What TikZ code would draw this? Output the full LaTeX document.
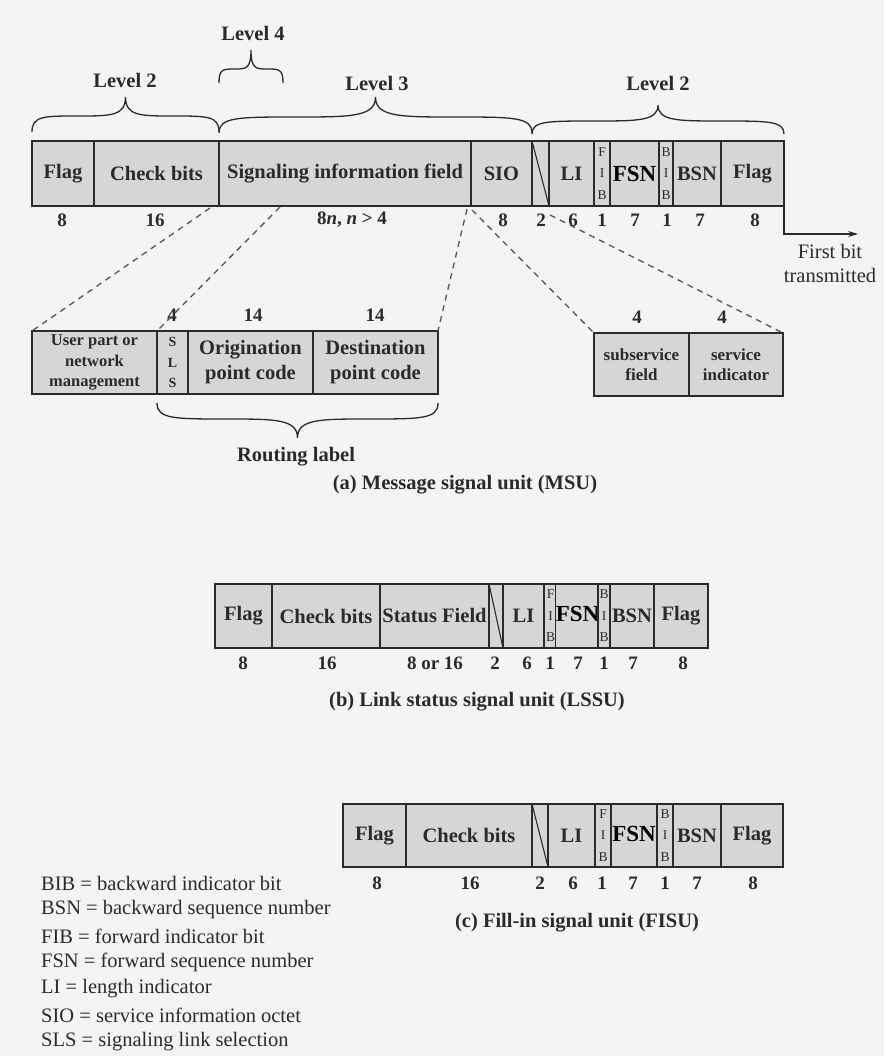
\documentclass[tikz,border=0pt]{standalone}
\usepackage{fontspec}
\setmainfont{Liberation Serif}
\usetikzlibrary{arrows.meta}

\definecolor{paper}{HTML}{F4F4F4}
\definecolor{cellfill}{HTML}{D6D6D6}
\definecolor{ink}{HTML}{2A2A2A}

\tikzset{
  cell/.style={draw=ink, line width=1.1pt, fill=cellfill, inner sep=0pt, outer sep=0pt,
    text=ink, align=center, font=\fontsize{20.5}{23}\selectfont\bfseries},
  bitcell/.style={font=\fontsize{13.5}{21.5}\selectfont},
  slscell/.style={font=\fontsize{14}{20.5}\selectfont\bfseries},
  fsncell/.style={text=black, font=\fontsize{23}{25}\selectfont\bfseries},
  smallcell/.style={font=\fontsize{16.5}{20.5}\selectfont\bfseries},
  midcell/.style={font=\fontsize{17}{20}\selectfont\bfseries},
  twoline/.style={font=\fontsize{20.5}{25}\selectfont\bfseries},
  frame/.style={draw=ink, line width=2.6pt},
  bits/.style={text=ink, inner sep=0pt, font=\fontsize{19}{21}\selectfont\bfseries},
  heading/.style={text=ink, inner sep=0pt, font=\fontsize{20.5}{23}\selectfont\bfseries},
  plain/.style={text=ink, inner sep=0pt, align=center, font=\fontsize{20.5}{24}\selectfont},
  legendline/.style={text=ink, inner sep=0pt, anchor=west, font=\fontsize{20.5}{24}\selectfont},
  curly/.style={draw=ink, line width=1.3pt},
  explode/.style={draw=ink!80, line width=1.3pt, dash pattern=on 6pt off 5pt},
  slashline/.style={draw=ink, line width=1.1pt},
}

% one field of a frame: [extra style]{name}{left}{right}{top}{bottom}{text}
\newcommand\cellbox[7][]{%
  \node[cell,#1,minimum width={(#4-#3)*1pt},minimum height={(#6-#5)*1pt}]
    (#2) at ({(#3+#4)/2},{(#5+#6)/2}) {#7};}

% curly brace: {left}{right}{y of ends}{y of shoulders}{y of tip}
\newcommand\curlybrace[5]{%
  \draw[curly] (#1,#3)
    .. controls (#1,#4) and ({#1+0.06*(#2-#1)},#4) .. ({#1+0.25*(#2-#1)},#4)
    .. controls ({#1+0.42*(#2-#1)},#4) and ({(#1+#2)/2},#4) .. ({(#1+#2)/2},#5)
    .. controls ({(#1+#2)/2},#4) and ({#1+0.58*(#2-#1)},#4) .. ({#1+0.75*(#2-#1)},#4)
    .. controls ({#1+0.94*(#2-#1)},#4) and (#2,#4) .. (#2,#3);}

\begin{document}
\begin{tikzpicture}[x=1pt, y=-1pt]
\useasboundingbox (0,0) rectangle (884,1056);
\fill[paper] (0,0) rectangle (884,1056);

% ---------------- (a) Message signal unit ----------------
\cellbox{m-flag1}{32}{94}{141}{206}{Flag}
\cellbox{m-ck}{94}{219}{141}{206}{Check bits}
\cellbox{m-sif}{219}{471}{141}{206}{Signaling information field}
\cellbox{m-sio}{471}{532}{141}{206}{SIO}
\cellbox{m-gap}{532}{549}{141}{206}{}
\cellbox{m-li}{549}{594}{141}{206}{LI}
\cellbox[bitcell]{m-fib}{594}{610}{141}{206}{F\\I\\B}
\cellbox[fsncell]{m-fsn}{610}{659}{141}{206}{FSN}
\cellbox[bitcell]{m-bib}{659}{673}{141}{206}{B\\I\\B}
\cellbox{m-bsn}{673}{721}{141}{206}{BSN}
\cellbox{m-flag2}{721}{784}{141}{206}{Flag}
\draw[slashline] (m-gap.north west) -- (m-gap.south east);
\draw[frame] (m-flag1.north west) rectangle (m-flag2.south east);

\foreach \x/\t [count=\i] in {62/8, 155/16, 352/{8\textit{n}, \textit{n} > 4}, 503/8, 541/2,
    573/6, 602/1, 635/7, 667/1, 700/7, 755/8}
  \node[bits] (mbits\i) at (\x,220) {\t};

% level braces
\curlybrace{32}{219}{132}{116}{97}
\curlybrace{219}{532}{133}{117}{97}
\curlybrace{532}{784}{134}{121}{105}
\curlybrace{219}{283}{83}{69}{50}
\node[heading] (lv2a) at (125,80) {Level 2};
\node[heading] (lv4) at (253,33) {Level 4};
\node[heading] (lv3) at (377,83) {Level 3};
\node[heading] (lv2b) at (658,83) {Level 2};

% first bit transmitted
\coordinate (fb-end) at (858,234);
\draw[draw=ink, line width=1.2pt, -{Stealth[length=10pt,width=6pt]}] (m-flag2.south east) |- (fb-end);
\node[plain] (fbtext) at (830,263) {First bit\\transmitted};

% routing label detail
\cellbox[smallcell]{r-user}{32}{157}{331}{394}{User part or\\network\\management}
\cellbox[slscell]{r-sls}{157}{188}{331}{394}{S\\L\\S}
\cellbox[twoline]{r-opc}{188}{313}{331}{394}{Origination\\point code}
\cellbox[twoline]{r-dpc}{313}{438}{331}{394}{Destination\\point code}
\draw[frame] (r-user.north west) rectangle (r-dpc.south east);
\node[bits] (rb1) at (172,315) {4};
\node[bits] (rb2) at (253,315) {14};
\node[bits] (rb3) at (375,315) {14};
\curlybrace{438}{157}{403}{419}{438}
\node[heading] (routing) at (296,457) {Routing label};

% SIO detail
\cellbox[midcell]{s-sub}{594}{689}{333}{396}{subservice\\field}
\cellbox[midcell]{s-si}{689}{783}{333}{396}{service\\indicator}
\draw[frame] (s-sub.north west) rectangle (s-si.south east);
\node[bits] (sb1) at (637,317) {4};
\node[bits] (sb2) at (722,317) {4};

% exploded-view guide lines
\coordinate (sif-a) at (210,208);
\coordinate (sif-b) at (280,207);
\coordinate (sif-c) at (467,209);
\coordinate (sio-a) at (472,210);
\coordinate (sio-b) at (550,215);
\draw[explode] (sif-a) -- (r-user.north west);
\draw[explode] (sif-b) -- (r-sls.north west);
\draw[explode] (sif-c) -- (r-dpc.north east);
\draw[explode] (sio-a) -- (s-sub.north west);
\draw[explode] (sio-b) -- (s-si.north east);

\node[heading] (cap-a) at (465,485) {(a) Message signal unit (MSU)};

% ---------------- (b) Link status signal unit ----------------
\cellbox{l-flag1}{215}{272}{584}{648}{Flag}
\cellbox{l-ck}{272}{380}{584}{648}{Check bits}
\cellbox{l-sf}{380}{489}{584}{648}{Status Field}
\cellbox{l-gap}{489}{503}{584}{648}{}
\cellbox{l-li}{503}{544}{584}{648}{LI}
\cellbox[bitcell]{l-fib}{544}{557}{584}{648}{F\\I\\B}
\cellbox[fsncell]{l-fsn}{557}{598}{584}{648}{\raisebox{4pt}{FSN}}
\cellbox[bitcell]{l-bib}{598}{610}{584}{648}{B\\I\\B}
\cellbox{l-bsn}{610}{654}{584}{648}{BSN}
\cellbox{l-flag2}{654}{708}{584}{648}{Flag}
\draw[slashline] (l-gap.north west) -- (l-gap.south east);
\draw[frame] (l-flag1.north west) rectangle (l-flag2.south east);

\foreach \x/\t [count=\i] in {243/8, 327/16, 435/8 or 16, 495/2, 527/6, 550/1,
    578/7, 604/1, 633/7, 683/8}
  \node[bits] (lbits\i) at (\x,663) {\t};

\node[heading] (cap-b) at (477,702) {(b) Link status signal unit (LSSU)};

% ---------------- (c) Fill-in signal unit ----------------
\cellbox{f-flag1}{343}{406}{804}{867}{Flag}
\cellbox{f-ck}{406}{532}{804}{867}{Check bits}
\cellbox{f-gap}{532}{548}{804}{867}{}
\cellbox{f-li}{548}{595}{804}{867}{LI}
\cellbox[bitcell]{f-fib}{595}{611}{804}{867}{F\\I\\B}
\cellbox[fsncell]{f-fsn}{611}{657}{804}{867}{\raisebox{3pt}{FSN}}
\cellbox[bitcell]{f-bib}{657}{673}{804}{867}{B\\I\\B}
\cellbox{f-bsn}{673}{721}{804}{867}{BSN}
\cellbox{f-flag2}{721}{783}{804}{867}{Flag}
\draw[slashline] (f-gap.north west) -- (f-gap.south east);
\draw[frame] (f-flag1.north west) rectangle (f-flag2.south east);

\foreach \x/\t [count=\i] in {377/8, 470/16, 540/2, 573/6, 602/1, 633/7,
    665/1, 697/7, 753/8}
  \node[bits] (fbits\i) at (\x,883) {\t};

\node[heading] (cap-c) at (577,923) {(c) Fill-in signal unit (FISU)};

% ---------------- abbreviations ----------------
\foreach \t [count=\i] in {BIB = backward indicator bit,
    BSN = backward sequence number,
    FIB = forward indicator bit,
    FSN = forward sequence number,
    LI = length indicator,
    SIO = service information octet,
    SLS = signaling link selection}
  \node[legendline] (abbr\i) at (41,{883+26.5*(\i-1)}) {\t};

\end{tikzpicture}
\end{document}
